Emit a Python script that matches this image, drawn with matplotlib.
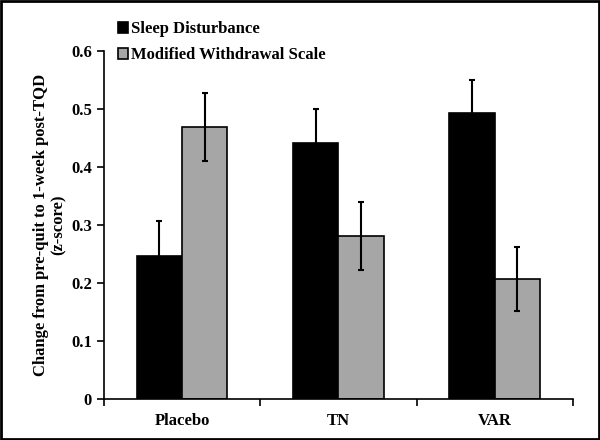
import matplotlib
matplotlib.use('Agg')
import matplotlib.pyplot as plt
import numpy as np

groups = ['Placebo', 'TN', 'VAR']
sleep = [0.247, 0.441, 0.493]
sleep_err = [0.060, 0.059, 0.057]
mws = [0.469, 0.281, 0.207]
mws_err = [0.059, 0.058, 0.055]

plt.rcParams['font.family'] = 'Liberation Serif'
plt.rcParams['font.weight'] = 'bold'

fig = plt.figure(figsize=(6, 4.4), dpi=100)
ax = fig.add_axes([0.173, 0.093, 0.782, 0.791])

x = np.arange(len(groups))
w = 0.29
ekw = dict(ecolor='black', elinewidth=1.5, capsize=2.5, capthick=1.5)
ax.bar(x - w / 2, sleep, w, yerr=sleep_err, color='black', edgecolor='black',
       linewidth=1.2, error_kw=ekw, label='Sleep Disturbance')
ax.bar(x + w / 2, mws, w, yerr=mws_err, color='#a6a6a6', edgecolor='black',
       linewidth=1.2, error_kw=ekw, label='Modified Withdrawal Scale')

ax.set_xlim(-0.5, 2.5)
ax.set_ylim(0, 0.6)
ax.set_yticks(np.arange(0, 0.61, 0.1))
ax.set_yticklabels(['0', '0.1', '0.2', '0.3', '0.4', '0.5', '0.6'])
ax.set_xticks([-0.5, 0.5, 1.5, 2.5])
ax.set_xticklabels([])
ax.set_xticks(x, minor=True)
ax.set_xticklabels(groups, minor=True)
ax.tick_params(axis='x', which='minor', length=0, pad=10, labelsize=12)
ax.tick_params(axis='both', which='major', direction='out', length=5, width=1.2, labelsize=12)
for s in ['top', 'right']:
    ax.spines[s].set_visible(False)
for s in ['left', 'bottom']:
    ax.spines[s].set_linewidth(1.2)

ax.set_ylabel('Change from pre-quit to 1-week post-TQD\n(z-score)', fontsize=12,
              fontweight='bold', labelpad=3)

ax.legend(loc='upper left', bbox_to_anchor=(0.015, 1.105), frameon=False, fontsize=12,
          handlelength=0.6, handleheight=0.6, handletextpad=0.2, labelspacing=0.6,
          borderaxespad=0)

# frame around the whole image
fig.patches.append(plt.Rectangle((0.002, 0.002), 0.996, 0.996, transform=fig.transFigure,
                                 fill=False, edgecolor='black', linewidth=2))

fig.savefig('out.png', dpi=100)
